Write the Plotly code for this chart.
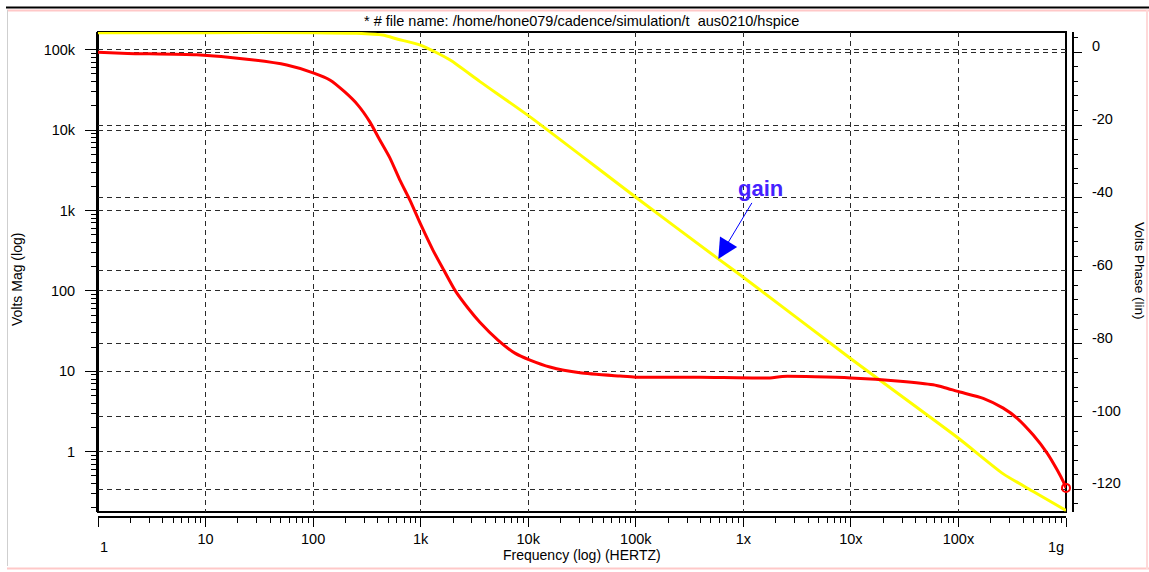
import numpy as np
import plotly.graph_objects as go

# ---------------- data ----------------
freq_mag = [1, 10, 100, 254, 444, 613, 995, 1.88e3, 3.56e3, 1.04e4, 1.0e5,
            5.85e5, 1.0e6, 1.0e7, 1.0e8, 2.61e8, 4.96e8, 1.0e9]
mag = [1.63e5, 1.63e5, 1.63e5, 1.60e5, 1.52e5, 1.35e5, 1.14e5, 7.45e4, 4.01e4, 1.46e4,
       1.46e3, 250, 148, 14.3, 1.47, 0.53, 0.32, 0.186]

freq_phase = [1, 1.89, 8.28, 24.2, 56.9, 101.6, 143, 197, 261, 337, 417, 517, 641, 794,
              1006, 1.30e3, 1.64e3, 2.08e3, 2.75e3, 3.55e3, 5.23e3, 7.52e3, 1.04e4,
              1.59e4, 3.03e4, 7.13e4, 1.0e5, 3.95e5, 1.77e6, 2.3e6, 1.0e7, 2.87e7,
              5.82e7, 7.5e7, 1.01e8, 1.70e8, 2.61e8, 3.52e8, 4.96e8, 6.70e8, 8.29e8,
              9.44e8, 1.0e9]
phase = [0, -0.3, -0.7, -1.9, -3.5, -5.7, -7.6, -10.9, -14.5, -19.1, -24.1, -29.0,
         -35.1, -40.6, -47.4, -54.3, -59.8, -65.3, -70.2, -74.1, -79.0, -82.6, -84.5,
         -86.4, -88.0, -88.9, -89.2, -89.2, -89.4, -89.0, -89.4, -90.3, -91.3, -92.1,
         -93.2, -95.0, -97.7, -100.5, -105.1, -110.1, -114.7, -117.9, -119.6]

x_tickvals = [1, 10, 100, 1e3, 1e4, 1e5, 1e6, 1e7, 1e8, 1e9]
x_ticktext = ["", "10", "100", "1k", "10k", "100k", "1x", "10x", "100x", ""]
x_end_labels = ["1", "1g"]
mag_tickvals = [1, 10, 100, 1e3, 1e4, 1e5]
mag_ticktext = ["1", "10", "100", "1k", "10k", "100k"]
phase_tickvals = [-120, -100, -80, -60, -40, -20, 0]
phase_ticktext = ["-120", "-100", "-80", "-60", "-40", "-20", "0"]

title_text = "* # file name: /home/hone079/cadence/simulation/t&nbsp;&nbsp;aus0210/hspice"

# ---------------- layout geometry ----------------
W, H = 1149, 572
ML, MT, MR, MB = 98, 32, 76, 55
PX_L, PX_R = ML, W - MR
PY_T, PY_B = MT, H - MB
FRAME_R, FRAME_B = 1066, 512


def px2x(px):
    return (px - PX_L) / (PX_R - PX_L)


def py2y(py):
    return (PY_B - py) / (PY_B - PY_T)


FONT = "Liberation Sans, Arial, sans-serif"
GRID = dict(showgrid=True, gridcolor="#2a2a2a", gridwidth=1, griddash="5px,4px")

fig = go.Figure()

fig.add_trace(go.Scatter(x=freq_phase, y=phase, yaxis="y2", mode="lines",
                         line=dict(color="#ff0000", width=3, shape="spline", smoothing=0.6),
                         hoverinfo="skip", showlegend=False))
fig.add_trace(go.Scatter(x=[freq_phase[-1]], y=[phase[-1]], yaxis="y2", mode="markers",
                         marker=dict(symbol="circle-open", size=8, color="#ff0000",
                                     line=dict(width=2, color="#ff0000")),
                         hoverinfo="skip", showlegend=False, cliponaxis=False))
fig.add_trace(go.Scatter(x=freq_mag, y=mag, yaxis="y", mode="lines",
                         line=dict(color="#ffff00", width=3, shape="spline", smoothing=0.6),
                         hoverinfo="skip", showlegend=False))

shapes = []
# plot frame
shapes.append(dict(type="rect", xref="paper", yref="paper",
                   x0=px2x(ML), x1=px2x(FRAME_R), y0=py2y(FRAME_B), y1=py2y(MT),
                   line=dict(color="black", width=2), layer="between"))
# erased grid portions (label boxes in original)
for (x0, x1, y0, y1) in [(718, 743, 123, 132), (695, 820, 194, 203), (740, 748, 128, 206)]:
    shapes.append(dict(type="rect", xref="paper", yref="paper",
                       x0=px2x(x0), x1=px2x(x1), y0=py2y(y1), y1=py2y(y0),
                       line=dict(width=0), fillcolor="white", layer="between"))
# window border decoration
shapes += [
    dict(type="line", xref="paper", yref="paper", x0=px2x(6), x1=px2x(1149),
         y0=py2y(7.5), y1=py2y(7.5), line=dict(color="black", width=2)),
    dict(type="line", xref="paper", yref="paper", x0=px2x(7), x1=px2x(1149),
         y0=py2y(10.5), y1=py2y(10.5), line=dict(color="#ffc8c8", width=2)),
    dict(type="line", xref="paper", yref="paper", x0=px2x(7.5), x1=px2x(7.5),
         y0=py2y(10), y1=py2y(566), line=dict(color="#cfcfcf", width=1)),
    dict(type="line", xref="paper", yref="paper", x0=px2x(7), x1=px2x(1149),
         y0=py2y(568.5), y1=py2y(568.5), line=dict(color="#ffc8c8", width=2)),
    dict(type="line", xref="paper", yref="paper", x0=px2x(1147), x1=px2x(1147),
         y0=py2y(10), y1=py2y(569), line=dict(color="#ffd8d8", width=2)),
]

annotations = [
    dict(text=title_text, xref="paper", yref="paper", x=px2x(581), y=py2y(21),
         xanchor="center", yanchor="middle", showarrow=False,
         font=dict(family=FONT, size=14.5, color="black")),
    dict(text=x_end_labels[0], xref="x", yref="paper", x=np.log10(x_tickvals[0]), y=py2y(547),
         xanchor="left", yanchor="middle", showarrow=False,
         font=dict(family=FONT, size=14.5, color="black")),
    dict(text=x_end_labels[1], xref="x", yref="paper", x=np.log10(x_tickvals[-1]), y=py2y(547),
         xanchor="right", yanchor="middle", showarrow=False,
         font=dict(family=FONT, size=14.5, color="black")),
    dict(text="Frequency (log) (HERTZ)", xref="paper", yref="paper", x=px2x(582), y=py2y(555),
         xanchor="center", yanchor="middle", showarrow=False,
         font=dict(family=FONT, size=14, color="black")),
    dict(text="Volts Mag (log)", xref="paper", yref="paper", x=px2x(17), y=py2y(280),
         xanchor="center", yanchor="middle", showarrow=False, textangle=-90,
         font=dict(family=FONT, size=14, color="black")),
    dict(text="Volts Phase (lin)", xref="paper", yref="paper", x=px2x(1140), y=py2y(271),
         xanchor="center", yanchor="middle", showarrow=False, textangle=90,
         font=dict(family=FONT, size=13.5, color="black")),
    dict(text="<b>gain</b>", xref="x", yref="y", x=np.log10(freq_mag[11]), y=np.log10(mag[11]),
         ax=42, ay=-70, showarrow=True, arrowhead=2, arrowsize=4, arrowwidth=1,
         arrowcolor="#0000ff", standoff=0,
         font=dict(family=FONT, size=22, color="#4422ff")),
]

fig.update_layout(
    width=W, height=H,
    margin=dict(l=ML, r=MR, t=MT, b=MB, pad=0, autoexpand=False),
    paper_bgcolor="white", plot_bgcolor="white",
    showlegend=False,
    font=dict(family=FONT, size=14, color="black"),
    xaxis=dict(type="log", range=[0, 9], domain=[0, px2x(FRAME_R)],
               anchor="free", position=0, automargin=False,
               tickvals=x_tickvals, ticktext=x_ticktext,
               ticks="outside", ticklen=9, tickwidth=1, tickcolor="black",
               showline=True, linecolor="black", linewidth=2,
               minor=dict(ticks="outside", ticklen=5, tickwidth=1, tickcolor="black",
                          dtick="D1", showgrid=False),
               tickfont=dict(family=FONT, size=14.5), ticklabelstandoff=0,
               zeroline=False, **GRID),
    yaxis=dict(type="log", range=[-0.75, 5.22], domain=[py2y(FRAME_B), 1],
               anchor="x", side="left", automargin=False,
               tickvals=mag_tickvals, ticktext=mag_ticktext,
               ticks="outside", ticklen=11, tickwidth=1, tickcolor="black",
               showline=True, linecolor="black", linewidth=2,
               minor=dict(ticks="outside", ticklen=5, tickwidth=1, tickcolor="black",
                          dtick="D1", showgrid=False),
               tickfont=dict(family=FONT, size=14.5), ticklabelstandoff=7,
               zeroline=False, **GRID),
    yaxis2=dict(range=[-126.22, 5.57], overlaying="y", side="right",
                anchor="free", position=1, automargin=False,
                tickvals=phase_tickvals, ticktext=phase_ticktext,
                ticks="outside", ticklen=8, tickwidth=1, tickcolor="black",
                showline=True, linecolor="black", linewidth=2,
                minor=dict(ticks="outside", ticklen=4, tickwidth=1, tickcolor="black",
                           dtick=4, showgrid=False),
                tickfont=dict(family=FONT, size=14.5), ticklabelstandoff=7,
                ticklabelshift=-6,
                zeroline=False, **GRID),
    shapes=shapes,
    annotations=annotations,
)

fig.write_html("out.html", config={"displayModeBar": False},
               post_script="document.body.style.margin='0';document.body.style.padding='0';")
